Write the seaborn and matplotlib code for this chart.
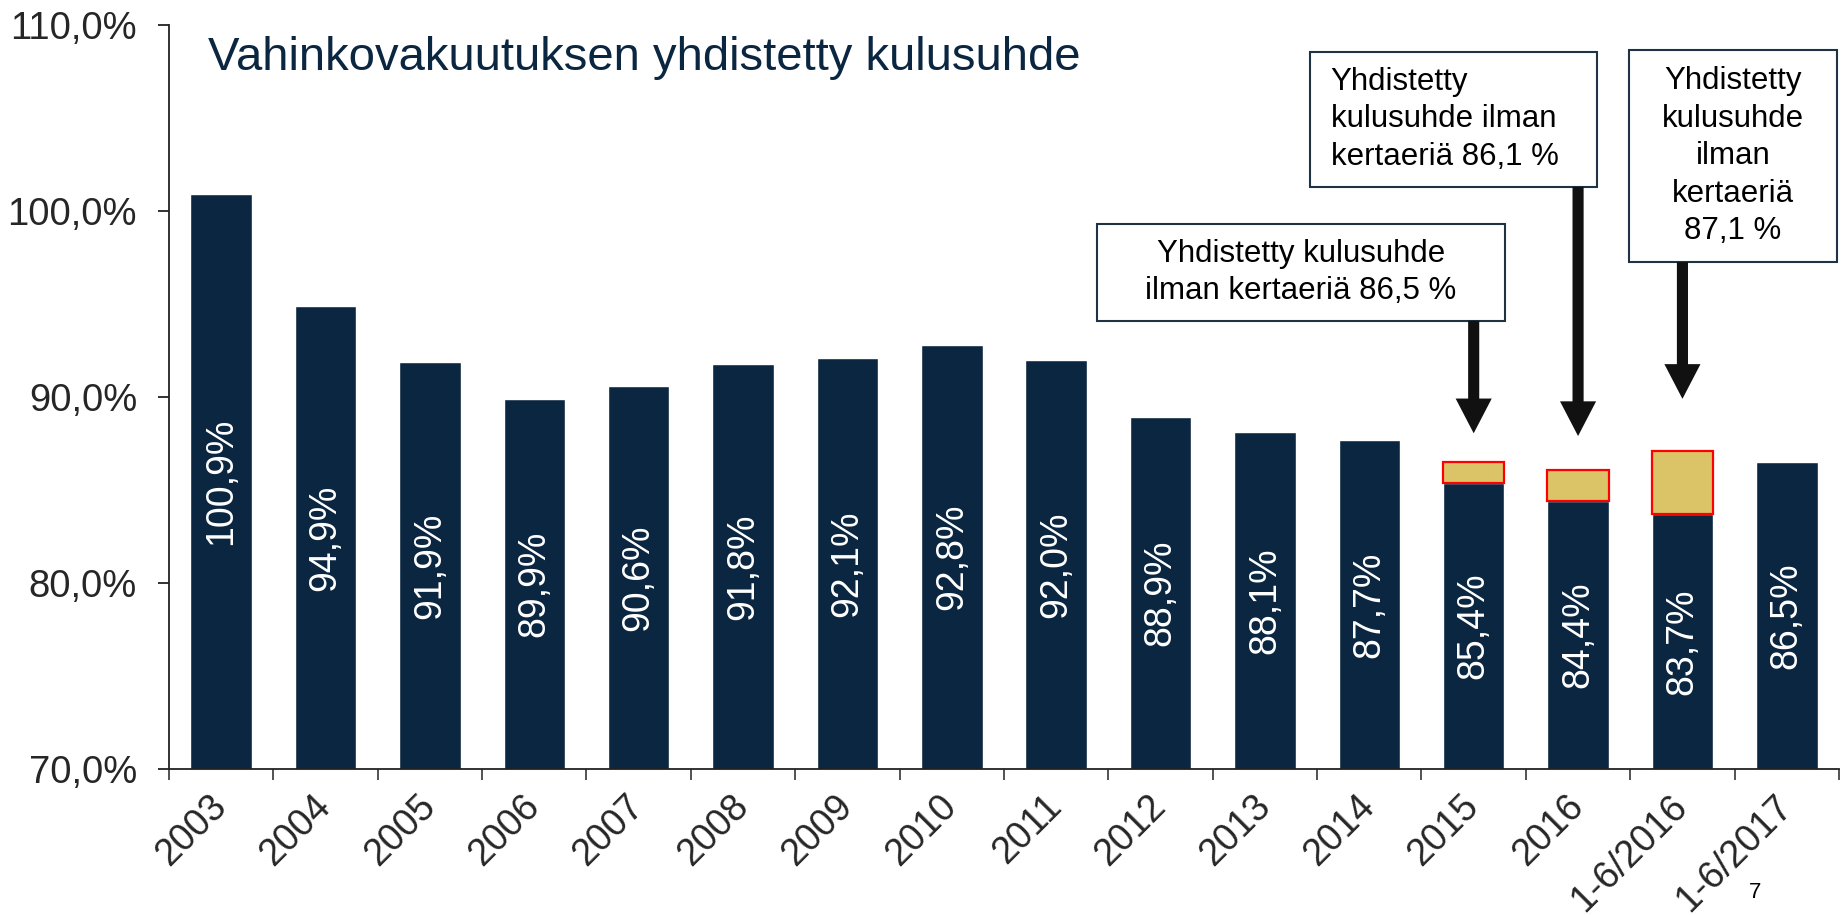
import numpy as np
import matplotlib.pyplot as plt
import matplotlib.transforms as mtransforms
from matplotlib.patches import Rectangle
import seaborn as sns

# data
categories = ['2003', '2004', '2005', '2006', '2007', '2008', '2009', '2010',
              '2011', '2012', '2013', '2014', '2015', '2016', '1-6/2016', '1-6/2017']
ratio = [100.9, 94.9, 91.9, 89.9, 90.6, 91.8, 92.1, 92.8,
         92.0, 88.9, 88.1, 87.7, 85.4, 84.4, 83.7, 86.5]
oneoff_cats = ['2015', '2016', '1-6/2016']
ratio_without_oneoff = [86.5, 86.1, 87.1]
y_ticks = [70, 80, 90, 100, 110]
y_tick_labels = ['70,0%', '80,0%', '90,0%', '100,0%', '110,0%']
title = 'Vahinkovakuutuksen yhdistetty kulusuhde'
box_texts = ['Yhdistetty kulusuhde\nilman kertaeriä 86,5 %',
             'Yhdistetty\nkulusuhde ilman\nkertaeriä 86,1 %',
             'Yhdistetty\nkulusuhde\nilman\nkertaeriä\n87,1 %']

# layout of the annotation boxes (data units: x = category index, y = %)
box_rects = [(8.39, 94.1, 3.91, 5.2), (10.43, 101.3, 2.75, 7.25), (13.49, 97.25, 1.99, 11.4)]
box_align = ['center', 'left', 'center']
arrow_gap = [1.55, 1.8, 2.8]

navy = '#0B2640'
gold = '#DBC468'

sns.set_style('white')
plt.rcParams['font.family'] = ['Liberation Sans', 'DejaVu Sans']

fig = plt.figure(figsize=(18.49, 9.15), dpi=100)
ax = fig.add_axes([169 / 1849, 146 / 915, 1670 / 1849, 744 / 915])

sns.barplot(x=categories, y=ratio, color=navy, saturation=1, width=0.59, ax=ax, zorder=2)

base = [ratio[categories.index(c)] for c in oneoff_cats]
extra = [w - b for w, b in zip(ratio_without_oneoff, base)]
sns.barplot(x=oneoff_cats, y=extra, bottom=base, order=categories, color=gold, saturation=1,
            width=0.59, edgecolor='#FF0000', linewidth=1.6, ax=ax, zorder=3)

ax.set_ylim(70, 110)
ax.set_xlim(-0.5, len(categories) - 0.5)

for i, v in enumerate(ratio):
    ax.text(i, (70 + v) / 2, f'{v:.1f}%'.replace('.', ','), rotation=90, color='white',
            ha='center', va='center', fontsize=27, zorder=4)

ax.set_yticks(y_ticks)
ax.set_yticklabels(y_tick_labels)
ax.tick_params(axis='y', length=8, width=1.3, direction='out', pad=15, labelsize=27.5,
               color='#222222', left=True)

ax.set_xticks(range(len(categories)))
ax.set_xticklabels(categories, rotation=45, ha='right', rotation_mode='anchor')
ax.set_xticks(np.arange(-0.5, len(categories), 1), minor=True)
ax.tick_params(axis='x', which='major', length=0, pad=14, labelsize=27)
ax.tick_params(axis='x', which='minor', length=8, width=1.3, direction='out',
               color='#444444', bottom=True)
shift = mtransforms.ScaledTranslation(-0.13, 0, fig.dpi_scale_trans)
for lbl in ax.get_xticklabels():
    lbl.set_transform(lbl.get_transform() + shift)
ax.set_xlabel('')
ax.set_ylabel('')

sns.despine(ax=ax)
for s in ['left', 'bottom']:
    ax.spines[s].set_color('#222222')
    ax.spines[s].set_linewidth(1.3)

# annotation boxes and arrows
for k, (text, rect, al, gap) in enumerate(zip(box_texts, box_rects, box_align, arrow_gap)):
    x0, y0, w, h = rect
    ax.add_patch(Rectangle((x0, y0), w, h, facecolor='white', edgecolor='#1F3344',
                           linewidth=1.5, zorder=5, clip_on=False))
    tx = x0 + w / 2 if al == 'center' else x0 + 0.2
    ax.text(tx, y0 + h / 2, text, ha=al, va='center', multialignment=al, fontsize=22.5,
            linespacing=1.33, color='black', zorder=6, clip_on=False)
    xi = categories.index(oneoff_cats[k])
    ax.annotate('', xy=(xi, ratio_without_oneoff[k] + gap), xytext=(xi, y0),
                arrowprops=dict(arrowstyle='simple,head_length=25,head_width=26,tail_width=8',
                                mutation_scale=1, fc='#111111', ec='none',
                                shrinkA=0, shrinkB=0), zorder=5, annotation_clip=False)

fig.text(208 / 1849, 1 - 70 / 915, title, fontsize=34, color=navy, ha='left', va='baseline')
fig.text(1755 / 1849, 1 - 898 / 915, '7', fontsize=16, color='black', ha='center', va='baseline')

fig.savefig('out.png', dpi=100, facecolor='white')
